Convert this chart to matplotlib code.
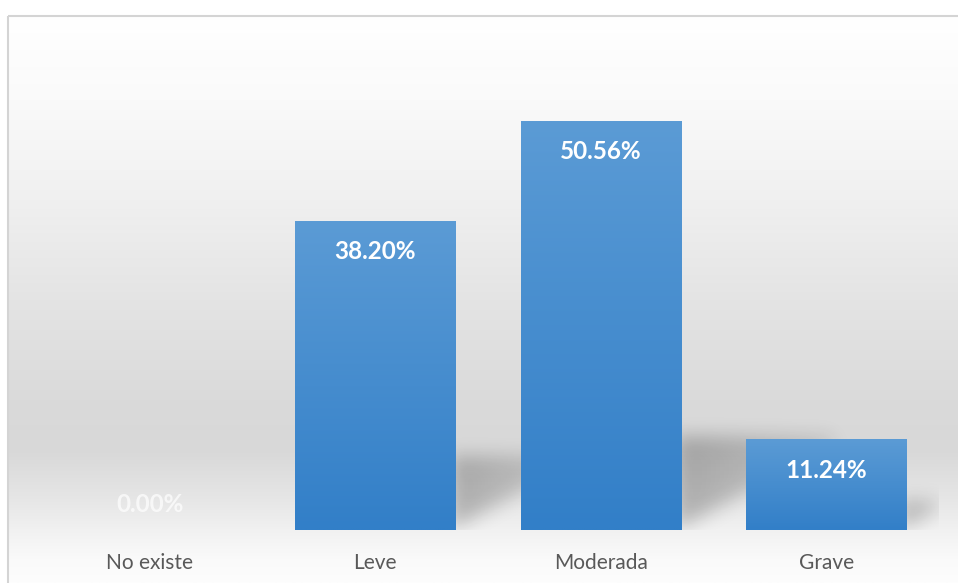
import numpy as np
import matplotlib
matplotlib.use("Agg")
import matplotlib.pyplot as plt
from matplotlib.patches import Rectangle

categories = ["No existe", "Leve", "Moderada", "Grave"]
values = [0.00, 38.20, 50.56, 11.24]
labels = ["0.00%", "38.20%", "50.56%", "11.24%"]

plt.rcParams['font.family'] = ['Lato', 'DejaVu Sans']

W, H = 958, 583
fig = plt.figure(figsize=(W / 100, H / 100), dpi=100)
fig.patch.set_facecolor('white')

# ---- background panel with vertical gradient ----
bg = fig.add_axes([0, 0, 1, 1], zorder=0)
bg.set_xlim(0, W)
bg.set_ylim(H, 0)
bg.axis('off')
ys = np.linspace(15, H, 400)
stops_y = [15, 100, 200, 300, 400, 450, 500, 530, 560, 583]
stops_v = [255, 250, 240, 228, 218, 216, 230, 241, 250, 253]
g = np.interp(ys, stops_y, stops_v) / 255.0
img = np.dstack([np.repeat(g[:, None], 2, axis=1)] * 3)
bg.imshow(img, extent=(8, W + 2, H, 15), aspect='auto', interpolation='bilinear')
bg.add_patch(Rectangle((8.5, 15.5), W, H, fill=False, edgecolor='#d4d4d4', linewidth=1.5))

# ---- main axes ----
left_px, right_px = 37, 939
base_px, ymax = 530, 60.0
px_per_unit = 8.09
top_px = base_px - ymax * px_per_unit
ax = fig.add_axes([left_px / W, (H - base_px) / H, (right_px - left_px) / W,
                   (base_px - top_px) / H], zorder=1)
ax.set_facecolor('none')
x = np.arange(len(categories))
ax.set_xlim(-0.5, len(categories) - 0.5)
ax.set_ylim(0, ymax)
for s in ax.spines.values():
    s.set_visible(False)
ax.set_yticks([])
ax.set_xticks(x)
ax.set_xticklabels(categories, fontsize=15, color='#595959')
ax.tick_params(axis='x', length=0, pad=16.5)

bar_w = 0.71
bars = ax.bar(x, values, width=bar_w, color='none', edgecolor='none', zorder=3)

# ---- shadows (blurred triangles behind bars, derived from bar values) ----
nx, ny = 902, 486
gx = np.linspace(-0.5, len(categories) - 0.5, nx)
gy = np.linspace(0, ymax, ny)
XX, YY = np.meshgrid(gx, gy)
mask = np.zeros_like(XX)
unit_x_px = (right_px - left_px) / len(categories)
for xi, v in zip(x, values):
    if v <= 0:
        continue
    s = 0.2 * v + 1.4
    L = 1.7 * s * px_per_unit / unit_x_px
    xr = xi + bar_w / 2 - 0.02
    inside = (XX >= xr) & (XX <= xr + L) & (YY <= s) & (YY >= (XX - xr) / L * s * 0.9)
    fade = 1.0 - 0.55 * np.clip((XX - xr) / L, 0, 1)
    mask = np.maximum(mask, np.where(inside, fade, 0.0))

def gblur(a, sigma, axis):
    r = int(3 * sigma)
    k = np.exp(-0.5 * (np.arange(-r, r + 1) / sigma) ** 2)
    k /= k.sum()
    return np.apply_along_axis(lambda m: np.convolve(m, k, mode='same'), axis, a)

mask = gblur(gblur(mask, 9, 0), 9, 1)
shadow = np.zeros((ny, nx, 4))
shadow[..., 3] = mask * 0.25
ax.imshow(shadow, extent=(gx[0], gx[-1], 0, ymax), origin='lower', aspect='auto',
          zorder=2, interpolation='bilinear')

# ---- gradient fill for each bar ----
top_c = np.array([91, 155, 213]) / 255.0
bot_c = np.array([50, 127, 200]) / 255.0
t = np.linspace(0, 1, 100)[:, None]
grad = (top_c[None, :] * t + bot_c[None, :] * (1 - t))  # row 0 = bottom
grad_img = np.repeat(grad[:, None, :], 2, axis=1)
for b in bars:
    h = b.get_height()
    if h <= 0:
        continue
    x0 = b.get_x()
    im = ax.imshow(grad_img, extent=(x0, x0 + b.get_width(), 0, h), origin='lower',
                   aspect='auto', zorder=3, interpolation='bilinear')
    im.set_clip_path(b)

# ---- value labels ----
for xi, v, lab in zip(x, values, labels):
    if v > 0:
        ax.annotate(lab, xy=(xi, v), xytext=(0, -31), textcoords='offset pixels',
                    ha='center', va='center', fontsize=17.5, fontweight='bold',
                    color='white', zorder=5)
    else:
        ax.annotate(lab, xy=(xi, v), xytext=(0, 26), textcoords='offset pixels',
                    ha='center', va='center', fontsize=17.5, fontweight='bold',
                    color='white', alpha=0.7, zorder=5)

ax.set_xlim(-0.5, len(categories) - 0.5)
ax.set_ylim(0, ymax)
fig.savefig('out.png', dpi=100)
